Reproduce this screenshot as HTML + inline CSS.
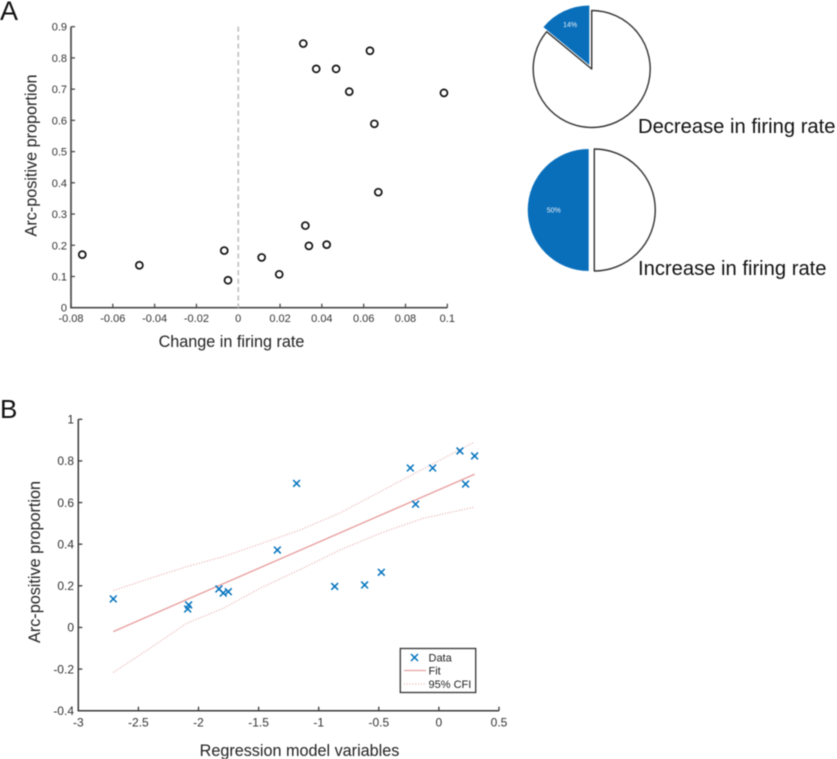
<!DOCTYPE html>
<html lang="en">
<head>
<meta charset="utf-8">
<title>Arc-positive proportion and firing rate</title>
<style>
html,body{margin:0;padding:0;background:#fff;}
#figure{display:block;width:837px;height:759px;filter:blur(0.45px);font-family:"Liberation Sans",sans-serif;}
text{font-family:"Liberation Sans",sans-serif;}
</style>
</head>
<body>
<svg id="figure" xmlns="http://www.w3.org/2000/svg" width="837" height="759" viewBox="0 0 837 759">
  <rect width="837" height="759" fill="#fff"/>
  <text x="0" y="20" font-size="27" fill="#111">A</text>
  <text x="0" y="418" font-size="26" fill="#111">B</text>
  <g id="panelA"></g>
  <g id="pies"></g>
  <g id="panelB"></g>
  <text x="231.5" y="347" font-size="16.2" fill="#222" text-anchor="middle">Change in firing rate</text>
  <text transform="translate(36.5 155.5) rotate(-90)" font-size="16.2" fill="#222" text-anchor="middle">Arc-positive proportion</text>
  <text x="299.5" y="756" font-size="16.2" fill="#222" text-anchor="middle">Regression model variables</text>
  <text transform="translate(40 562) rotate(-90)" font-size="16.2" fill="#222" text-anchor="middle">Arc-positive proportion</text>
  <text x="638" y="133" font-size="20.2" fill="#111">Decrease in firing rate</text>
  <text x="638" y="275" font-size="20.2" fill="#111">Increase in firing rate</text>
  <g>
    <rect x="400.3" y="648.5" width="75.4" height="44" fill="#fff" stroke="#333" stroke-width="1.3"/>
    <path d="M411 654L418 661M418 654L411 661" stroke="#0072BD" stroke-width="1.5" fill="none"/>
    <text x="428.5" y="661.5" font-size="11" fill="#222">Data</text>
    <line x1="404" y1="670.5" x2="426" y2="670.5" stroke="#e8a5a5" stroke-width="1.3"/>
    <text x="428.5" y="674.5" font-size="11" fill="#222">Fit</text>
    <line x1="404" y1="684" x2="426" y2="684" stroke="#e8b0b0" stroke-width="1.2" stroke-dasharray="1 1.8"/>
    <text x="428.5" y="688" font-size="11" fill="#222">95% CFI</text>
  </g>
</svg>
<script>
// Panel A data
const aXTickValues = [-0.08,-0.06,-0.04,-0.02,0,0.02,0.04,0.06,0.08,0.1];
const aXTickLabels = ['-0.08','-0.06','-0.04','-0.02','0','0.02','0.04','0.06','0.08','0.1'];
const aYTickValues = [0,0.1,0.2,0.3,0.4,0.5,0.6,0.7,0.8,0.9];
const aYTickLabels = ['0','0.1','0.2','0.3','0.4','0.5','0.6','0.7','0.8','0.9'];
const aFiringChange = [-0.0746,-0.0473,-0.0067,-0.0049,0.0112,0.0196,0.0311,0.0321,0.0338,0.0423,0.0373,0.0468,0.0531,0.0630,0.0651,0.0670,0.0984];
const aArcProportion = [0.170,0.136,0.183,0.088,0.161,0.107,0.846,0.263,0.198,0.202,0.765,0.765,0.692,0.823,0.589,0.370,0.688];

// Pie data
const pieShares = [0.14,0.50];
const pieLabels = ['14%','50%'];

// Panel B data
const bXTickValues = [-3,-2.5,-2,-1.5,-1,-0.5,0,0.5];
const bXTickLabels = ['-3','-2.5','-2','-1.5','-1','-0.5','0','0.5'];
const bYTickValues = [-0.4,-0.2,0,0.2,0.4,0.6,0.8,1];
const bYTickLabels = ['-0.4','-0.2','0','0.2','0.4','0.6','0.8','1'];
const bModelVars = [-2.709,-2.082,-2.090,-1.830,-1.794,-1.752,-1.344,-1.184,-0.867,-0.618,-0.479,-0.238,-0.194,-0.052,0.175,0.222,0.297];
const bArcProportion = [0.137,0.108,0.089,0.185,0.165,0.172,0.372,0.692,0.197,0.204,0.265,0.766,0.592,0.766,0.848,0.689,0.824];
const fitX = [-2.709,0.297];
const fitY = [-0.020,0.736];
const cfiX = [-2.709,-2.403,-2.098,-1.794,-1.488,-1.156,-0.823,-0.490,-0.132,0.286];
const cfiUpper = [0.177,0.236,0.292,0.340,0.401,0.468,0.550,0.652,0.761,0.888];
const cfiLower = [-0.216,-0.100,0.020,0.092,0.188,0.278,0.372,0.452,0.524,0.577];

const NS = 'http://www.w3.org/2000/svg';
function make(tag, parent, attrs, txt){
  const el = document.createElementNS(NS, tag);
  for (const k in attrs) el.setAttribute(k, attrs[k]);
  if (txt !== undefined) el.textContent = txt;
  parent.appendChild(el);
  return el;
}

// ---------- Panel A ----------
const gA = document.getElementById('panelA');
const ax = v => 71 + (v + 0.08) * (447.3 - 71) / 0.18;
const ay = v => 307.7 - v * (307.7 - 26.7) / 0.9;
const aAxis = make('path', gA, {d:`M${ax(-0.08)} ${ay(0.9)}V${ay(0)}H${ax(0.1)}`, fill:'none', stroke:'#4a4a4a', 'stroke-width':1.7});


aXTickValues.forEach((v,i)=>{
  const t = make('line', gA, {x1:ax(v), x2:ax(v), y1:ay(0), y2:ay(0)-4, stroke:'#4a4a4a', 'stroke-width':1.3});
  
  
  const l = make('text', gA, {x:ax(v), y:322, 'font-size':11, fill:'#333', 'text-anchor':'middle'}, aXTickLabels[i]);
  
  
});
aYTickValues.forEach((v,i)=>{
  const t = make('line', gA, {x1:ax(-0.08), x2:ax(-0.08)+4, y1:ay(v), y2:ay(v), stroke:'#4a4a4a', 'stroke-width':1.3});
  
  
  const l = make('text', gA, {x:67, y:ay(v)+4, 'font-size':11, fill:'#333', 'text-anchor':'end'}, aYTickLabels[i]);
  
  
});
const zero = make('line', gA, {x1:ax(0), x2:ax(0), y1:ay(0.9), y2:ay(0), stroke:'#c4c4c4', 'stroke-width':1.8, 'stroke-dasharray':'5 3.4'});


aFiringChange.forEach((v,i)=>{
  const c = make('circle', gA, {cx:ax(v), cy:ay(aArcProportion[i]), r:3.5, fill:'#fff', stroke:'#111', 'stroke-width':1.7});
  
  
});

// ---------- Pies ----------
const gP = document.getElementById('pies');
function pieEnd(cx, cy, r, deg){
  const a = deg * Math.PI / 180;
  return [cx + r * Math.sin(a), cy - r * Math.cos(a)];
}
function drawPie(share, label, w, b, labelDist){
  const deg = share * 360;
  const [wx, wy] = pieEnd(w.x, w.y, w.r, -deg);
  const rest = make('path', gP, {d:`M${w.x} ${w.y}L${w.x} ${w.y-w.r}A${w.r} ${w.r} 0 ${deg < 180 ? 1 : 0} 1 ${wx} ${wy}Z`, fill:'#fff', stroke:'#333', 'stroke-width':1.4, 'stroke-linejoin':'round'});
  
  
  const [bx, by] = pieEnd(b.x, b.y, b.r, -deg);
  const slice = make('path', gP, {d:`M${b.x} ${b.y}L${bx} ${by}A${b.r} ${b.r} 0 ${deg > 180 ? 1 : 0} 1 ${b.x} ${b.y-b.r}Z`, fill:'#0A6FBB'});
  
  
  const [lx, ly] = pieEnd(b.x, b.y, labelDist, -deg / 2);
  const t = make('text', gP, {x:lx, y:ly+2.5, 'font-size':7, fill:'#e6eff8', 'text-anchor':'middle'}, label);
  
  
}
drawPie(pieShares[0], pieLabels[0], {x:591.7,y:69,r:58.5}, {x:589.3,y:65,r:59.5}, 45);
drawPie(pieShares[1], pieLabels[1], {x:594.3,y:210,r:61}, {x:588.7,y:210,r:61}, 35);

// ---------- Panel B ----------
const gB = document.getElementById('panelB');
const bx = v => 78.3 + (v + 3) * (499 - 78.3) / 3.5;
const by = v => 710.7 - (v + 0.4) * (710.7 - 419.3) / 1.4;
const bAxis = make('path', gB, {d:`M${bx(-3)} ${by(1)}V${by(-0.4)}H${bx(0.5)}`, fill:'none', stroke:'#3a3a3a', 'stroke-width':1.5});


bXTickValues.forEach((v,i)=>{
  const t = make('line', gB, {x1:bx(v), x2:bx(v), y1:by(-0.4), y2:by(-0.4)-4, stroke:'#3a3a3a', 'stroke-width':1.3});
  
  
  const l = make('text', gB, {x:bx(v), y:726.5, 'font-size':12, fill:'#333', 'text-anchor':'middle'}, bXTickLabels[i]);
  
  
});
bYTickValues.forEach((v,i)=>{
  const t = make('line', gB, {x1:bx(-3), x2:bx(-3)+4, y1:by(v), y2:by(v), stroke:'#3a3a3a', 'stroke-width':1.3});
  
  
  const l = make('text', gB, {x:74, y:by(v)+4.3, 'font-size':12, fill:'#333', 'text-anchor':'end'}, bYTickLabels[i]);
  
  
});
const pts = (xs, ys) => xs.map((x,i)=>`${bx(x)},${by(ys[i])}`).join(' ');
const up = make('polyline', gB, {points:pts(cfiX,cfiUpper), fill:'none', stroke:'#e6a9a9', 'stroke-width':1.2, 'stroke-dasharray':'1 1.8'});


const lo = make('polyline', gB, {points:pts(cfiX,cfiLower), fill:'none', stroke:'#e6a9a9', 'stroke-width':1.2, 'stroke-dasharray':'1 1.8'});


const fit = make('polyline', gB, {points:pts(fitX,fitY), fill:'none', stroke:'#e8a0a0', 'stroke-width':1.4});


bModelVars.forEach((v,i)=>{
  const px = bx(v), py = by(bArcProportion[i]), s = 3.4;
  const m = make('path', gB, {d:`M${px-s} ${py-s}L${px+s} ${py+s}M${px+s} ${py-s}L${px-s} ${py+s}`, fill:'none', stroke:'#0072BD', 'stroke-width':1.5});
  
  
});
</script>
</body>
</html>
